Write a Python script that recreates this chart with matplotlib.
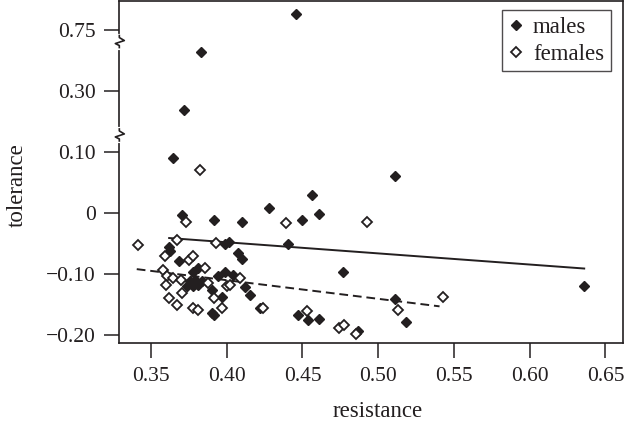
import numpy as np
import matplotlib
matplotlib.use('Agg')
import matplotlib.pyplot as plt

# values
male_res = [0.3707, 0.3916, 0.4099, 0.3619, 0.3625, 0.3687, 0.3988, 0.4017, 0.4076, 0.4099,
            0.3812, 0.3779, 0.3988, 0.3944, 0.4043, 0.3757, 0.3790, 0.3812, 0.3835, 0.3779,
            0.3736, 0.4120, 0.4153, 0.3901, 0.3967, 0.3901, 0.3916, 0.4220, 0.4281, 0.4563,
            0.4611, 0.4495, 0.4402, 0.4769, 0.4468, 0.4538, 0.4609, 0.4868, 0.5110, 0.5183,
            0.6356, 0.3647, 0.3720, 0.3830, 0.4457, 0.5110]
male_tol = [-0.004, -0.011, -0.015, -0.055, -0.063, -0.078, -0.051, -0.048, -0.066, -0.075,
            -0.090, -0.096, -0.096, -0.104, -0.101, -0.112, -0.109, -0.118, -0.112, -0.120,
            -0.120, -0.121, -0.134, -0.126, -0.137, -0.164, -0.167, -0.156, 0.0075, 0.030,
            -0.001, -0.012, -0.051, -0.096, -0.167, -0.175, -0.174, -0.193, -0.141, -0.179,
            -0.119, 0.090, 0.238, 0.588, 0.871, 0.060]

female_res = [0.3729, 0.3416, 0.3674, 0.3927, 0.3592, 0.3753, 0.3779, 0.3856, 0.3581, 0.3604,
              0.3647, 0.3696, 0.3599, 0.3878, 0.4000, 0.4021, 0.4087, 0.3703, 0.3916, 0.3621,
              0.3674, 0.3779, 0.3812, 0.3967, 0.3823, 0.4391, 0.4928, 0.4241, 0.4528, 0.4743,
              0.4774, 0.4853, 0.5132, 0.5425]
female_tol = [-0.014, -0.052, -0.045, -0.049, -0.071, -0.077, -0.071, -0.090, -0.093, -0.104,
              -0.107, -0.109, -0.118, -0.115, -0.120, -0.118, -0.107, -0.131, -0.139, -0.139,
              -0.150, -0.156, -0.159, -0.156, 0.070, -0.016, -0.014, -0.156, -0.160, -0.189,
              -0.184, -0.198, -0.159, -0.138]

# fitted lines (end points)
male_fit_x = [0.362, 0.636]
male_fit_y = [-0.041, -0.091]
female_fit_x = [0.3406, 0.5405]
female_fit_y = [-0.092, -0.153]

x_ticks = [0.35, 0.40, 0.45, 0.50, 0.55, 0.60, 0.65]
y_ticks = [-0.20, -0.10, 0.0, 0.10, 0.30, 0.75]
y_tick_labels = ['\u22120.20', '\u22120.10', '0', '0.10', '0.30', '0.75']
breaks = [0.156, 0.665]


def fwd(v):
    v = np.asarray(v, dtype=float)
    return np.where(v <= 0.1, v,
                    np.where(v <= 0.3, 0.1 + (v - 0.1) * 0.5, 0.2 + (v - 0.3) / 4.5))


def inv(u):
    u = np.asarray(u, dtype=float)
    return np.where(u <= 0.1, u,
                    np.where(u <= 0.2, 0.1 + (u - 0.1) * 2.0, 0.3 + (u - 0.2) * 4.5))


ink = '#231f20'
plt.rcParams['font.family'] = ['Liberation Serif', 'DejaVu Serif']

fig = plt.figure(figsize=(6.27, 4.24), dpi=100)
ax = fig.add_axes([0.1903, 0.1903, 0.8033, 0.8073])
ax.set_yscale('function', functions=(fwd, inv))

ax.plot(male_fit_x, male_fit_y, color=ink, lw=1.4)
ax.plot(female_fit_x, female_fit_y, color=ink, lw=1.4, dashes=(4.5, 2.5))
ax.plot(male_res, male_tol, 'D', ms=4.8, color=ink, mec=ink, ls='none', label='males')
ax.plot(female_res, female_tol, 'D', ms=5.2, mfc='white', mec=ink, mew=1.3, ls='none',
        label='females')

ax.set_xlim(0.3291, 0.6616)
ax.set_ylim(-0.2136, 0.964)
ax.set_xticks(x_ticks)
ax.set_xticklabels(['%.2f' % t for t in x_ticks])
ax.set_yticks(y_ticks)
ax.set_yticklabels(y_tick_labels)
ax.minorticks_off()
ax.tick_params(direction='out', length=10.5, width=1.1, color=ink, labelcolor=ink,
               labelsize=15.5)
ax.tick_params(axis='x', pad=6.5)
ax.tick_params(axis='y', pad=6.5)
for s in ax.spines.values():
    s.set_color(ink)
    s.set_linewidth(1.2)

ax.set_xlabel('resistance', fontsize=16.5, color=ink)
ax.set_ylabel('tolerance', fontsize=16.5, color=ink)
ax.xaxis.label.set_va('center')
ax.yaxis.label.set_va('center')
ax.xaxis.set_label_coords(0.5136, -0.200)
ax.yaxis.set_label_coords(-0.203, 0.462)

leg = ax.legend(loc='upper right', bbox_to_anchor=(0.976, 0.974), borderaxespad=0,
                fontsize=16.5, frameon=True, fancybox=False, handlelength=0.6,
                handletextpad=0.45, labelspacing=0.25, borderpad=0.3)
leg.get_frame().set_edgecolor(ink)
leg.get_frame().set_linewidth(1.0)
for t in leg.get_texts():
    t.set_color(ink)

# zigzag break marks on the y axis
fig.canvas.draw()
px_x = 1.0 / (0.8033 * 627)
px_y = 1.0 / (0.8073 * 424)
for b in breaks:
    disp = ax.transData.transform((0.5, b))
    yf = ax.transAxes.inverted().transform(disp)[1]
    ax.plot([0, 0], [yf - 6 * px_y, yf + 6 * px_y], color='white', lw=3,
            transform=ax.transAxes, clip_on=False, zorder=5)
    zx = [0, 0, 5 * px_x, -4 * px_x, 0, 0]
    zy = [yf + 6 * px_y, yf + 4 * px_y, yf + 1 * px_y, yf - 2 * px_y, yf - 4 * px_y, yf - 6 * px_y]
    ax.plot(zx, zy, color=ink, lw=1.2, transform=ax.transAxes, clip_on=False, zorder=6)

fig.savefig('out.png', dpi=100)
